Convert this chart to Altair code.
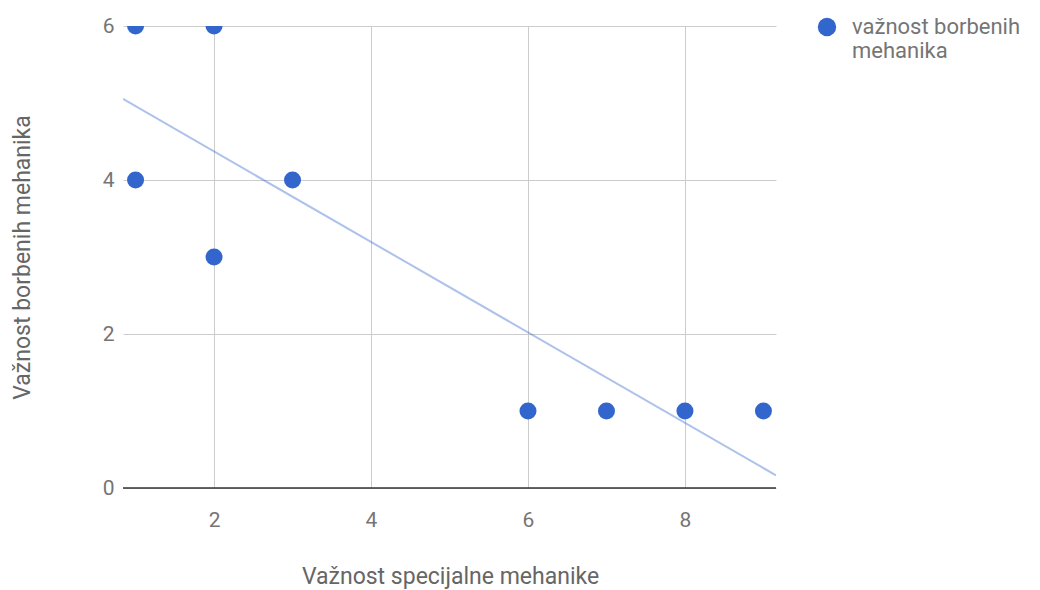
import altair as alt
import pandas as pd

x_vals = [1, 2, 1, 3, 2, 6, 7, 8, 9]
y_vals = [6, 6, 4, 4, 3, 1, 1, 1, 1]
series_name = "važnost borbenih mehanika"
x_title = "Važnost specijalne mehanike"
y_title = "Važnost borbenih mehanika"

df = pd.DataFrame({"x": x_vals, "y": y_vals, "series": [series_name] * len(x_vals)})
base_df = pd.DataFrame({"y": [0]})

FONT = "Roboto"
GRAY = "#757575"
XDOM = [0.84, 9.16]

xscale = alt.Scale(domain=XDOM, nice=False, zero=False)
yscale = alt.Scale(domain=[0, 6], nice=False)

xaxis = alt.Axis(values=[2, 4, 6, 8], title=x_title, domain=False, ticks=False, format="d",
                 labelPadding=21, gridColor="#cccccc",
                 titleX=327, titleY=88, titleBaseline="middle", titleAlign="center")
yaxis = alt.Axis(values=[0, 2, 4, 6], title=y_title, domain=False, ticks=False, format="d",
                 labelPadding=9, gridColor="#cccccc",
                 titleX=-101, titleY=231, titleBaseline="middle", titleAlign="center",
                 titleAngle=270)

points = alt.Chart(df).mark_circle(size=290, opacity=1, clip=True).encode(
    x=alt.X("x:Q", scale=xscale, axis=xaxis),
    y=alt.Y("y:Q", scale=yscale, axis=yaxis),
    color=alt.Color("series:N", scale=alt.Scale(range=["#3366CC"]),
                    legend=alt.Legend(title=None, orient="none", legendX=693, legendY=-10,
                                      symbolSize=340, symbolType="circle",
                                      labelExpr="['važnost borbenih', 'mehanika']",
                                      labelFont=FONT, labelFontSize=22, labelColor=GRAY,
                                      labelLimit=400, labelOffset=14, symbolOffset=0)),
)

trend = alt.Chart(df).transform_regression("x", "y", extent=XDOM).mark_line(
    color="#3366CC", opacity=0.4, strokeWidth=2, clip=True
).encode(
    x=alt.X("x:Q", scale=xscale),
    y=alt.Y("y:Q", scale=yscale),
)

baseline = alt.Chart(base_df).mark_rule(color="#333333", strokeWidth=1.5).encode(
    y=alt.Y("y:Q", scale=yscale)
)

chart = alt.layer(baseline, trend, points).properties(
    width=653, height=462,
    autosize=alt.AutoSizeParams(type="none"),
    padding={"left": 115, "top": 18, "right": 254, "bottom": 104},
).configure_axis(
    labelFont=FONT, labelFontSize=21, labelColor=GRAY,
    titleFont=FONT, titleFontSize=23, titleColor="#666666", titleFontWeight="normal",
).configure_view(stroke=None)

chart.save("out.html", embed_options={"renderer": "svg", "actions": False})
